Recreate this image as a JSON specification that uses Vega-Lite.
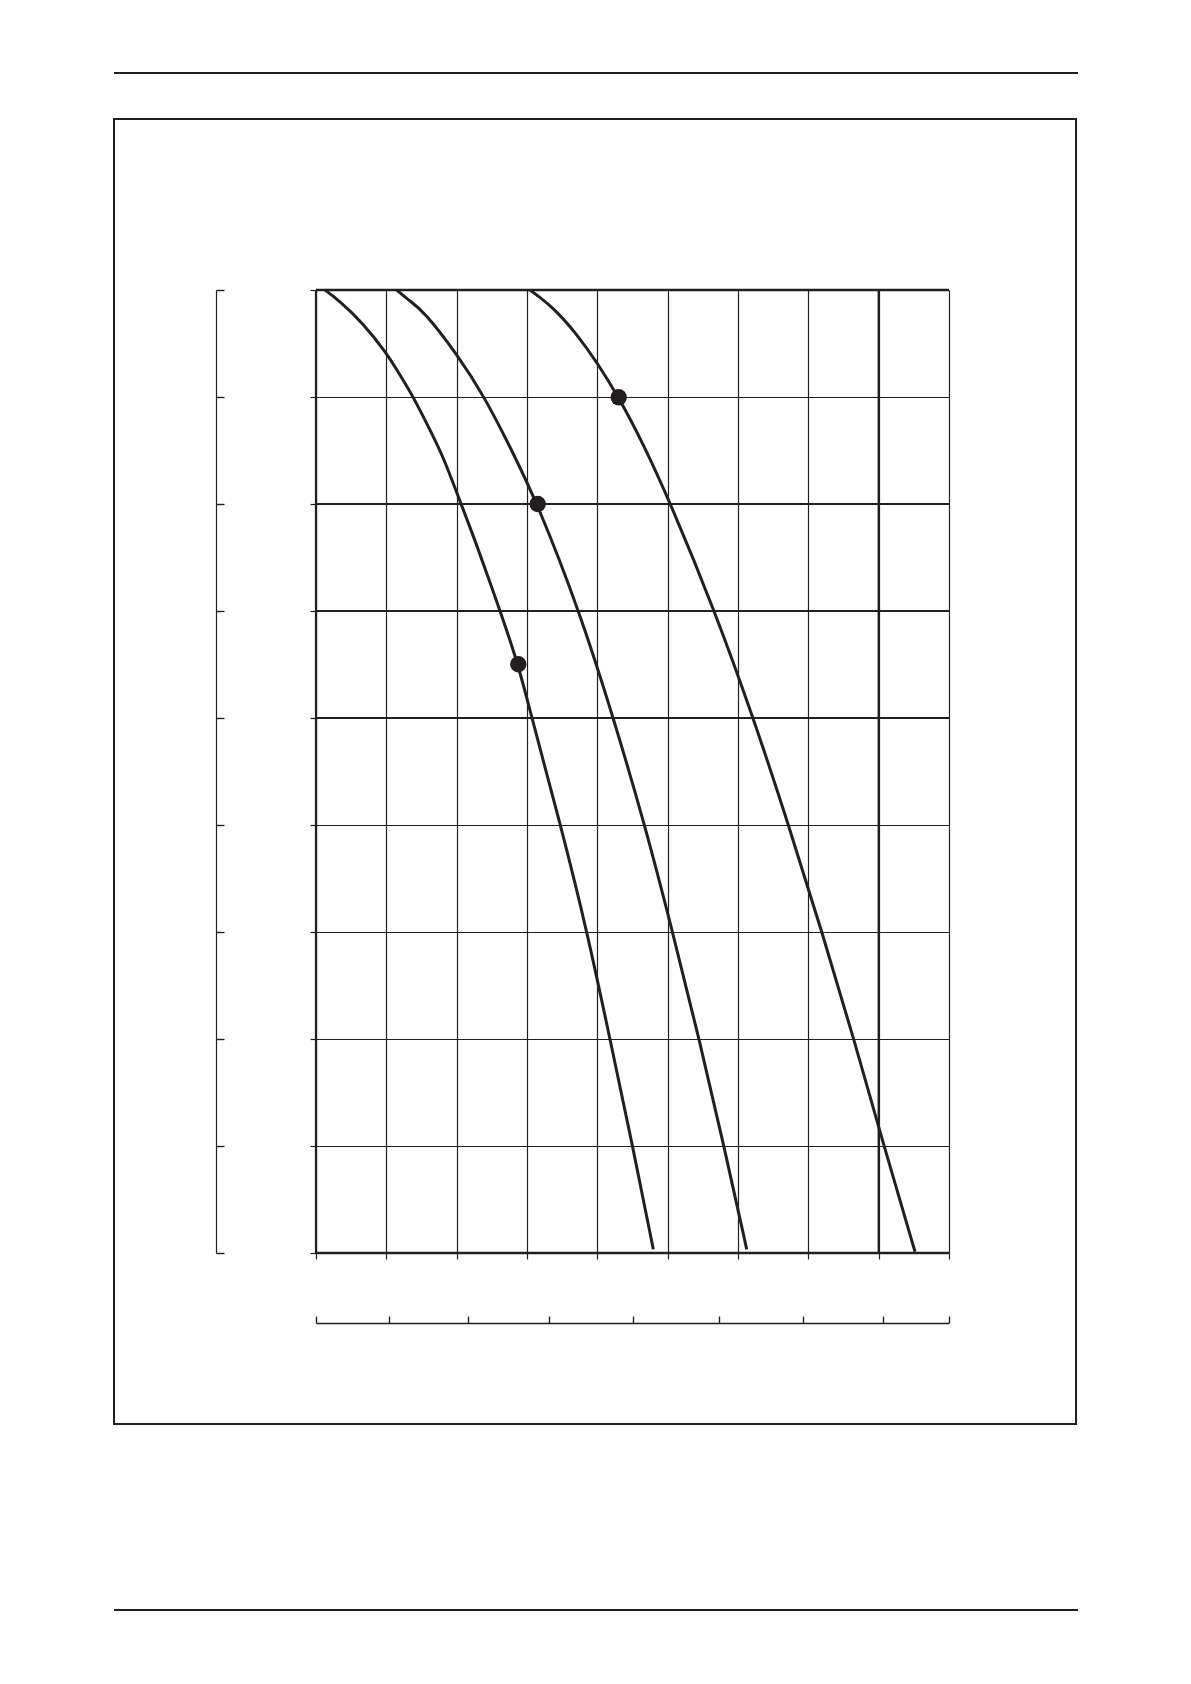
{
  "$schema": "https://vega.github.io/schema/vega-lite/v6.json",
  "width": 633,
  "height": 963,
  "autosize": {"type": "none"},
  "padding": {"left": 316, "top": 290, "right": 242, "bottom": 431},
  "background": "white",
  "usermeta": {"embedOptions": {"actions": false}},
  "config": {
    "view": {"stroke": null},
    "axis": {
      "labels": false,
      "title": null,
      "domainColor": "#231f20",
      "tickColor": "#231f20",
      "gridColor": "#231f20",
      "gridOpacity": 1
    }
  },
  "datasets": {
    "curves": [
      {"curve": "A", "x": 0.128, "y": 9.0},
      {"curve": "A", "x": 0.317, "y": 8.907},
      {"curve": "A", "x": 0.673, "y": 8.689},
      {"curve": "A", "x": 1.005, "y": 8.408},
      {"curve": "A", "x": 1.194, "y": 8.206},
      {"curve": "A", "x": 1.383, "y": 8.003},
      {"curve": "A", "x": 1.621, "y": 7.692},
      {"curve": "A", "x": 1.81, "y": 7.442},
      {"curve": "A", "x": 2.057, "y": 7.007},
      {"curve": "A", "x": 2.261, "y": 6.664},
      {"curve": "A", "x": 2.616, "y": 6.003},
      {"curve": "A", "x": 2.876, "y": 5.502},
      {"curve": "A", "x": 3.067, "y": 5.003},
      {"curve": "A", "x": 3.479, "y": 3.997},
      {"curve": "A", "x": 3.858, "y": 2.997},
      {"curve": "A", "x": 4.18, "y": 1.997},
      {"curve": "A", "x": 4.503, "y": 0.997},
      {"curve": "A", "x": 4.796, "y": 0.034},
      {"curve": "B", "x": 1.147, "y": 9.0},
      {"curve": "B", "x": 1.313, "y": 8.907},
      {"curve": "B", "x": 1.526, "y": 8.807},
      {"curve": "B", "x": 2.0, "y": 8.405},
      {"curve": "B", "x": 2.395, "y": 8.003},
      {"curve": "B", "x": 2.77, "y": 7.52},
      {"curve": "B", "x": 3.152, "y": 7.0},
      {"curve": "B", "x": 3.744, "y": 6.003},
      {"curve": "B", "x": 4.228, "y": 5.003},
      {"curve": "B", "x": 4.678, "y": 3.997},
      {"curve": "B", "x": 5.071, "y": 2.997},
      {"curve": "B", "x": 5.45, "y": 1.997},
      {"curve": "B", "x": 5.801, "y": 0.997},
      {"curve": "B", "x": 6.124, "y": 0.034},
      {"curve": "C", "x": 3.043, "y": 9.0},
      {"curve": "C", "x": 3.374, "y": 8.838},
      {"curve": "C", "x": 3.707, "y": 8.589},
      {"curve": "C", "x": 4.0, "y": 8.32},
      {"curve": "C", "x": 4.304, "y": 7.997},
      {"curve": "C", "x": 4.654, "y": 7.561},
      {"curve": "C", "x": 5.043, "y": 7.003},
      {"curve": "C", "x": 5.669, "y": 6.003},
      {"curve": "C", "x": 6.218, "y": 5.003},
      {"curve": "C", "x": 6.721, "y": 3.997},
      {"curve": "C", "x": 7.195, "y": 2.997},
      {"curve": "C", "x": 7.65, "y": 1.997},
      {"curve": "C", "x": 8.076, "y": 0.997},
      {"curve": "C", "x": 8.517, "y": 0.012}
    ],
    "dots": [
      {"curve": "A", "x": 2.876, "y": 5.502},
      {"curve": "B", "x": 3.152, "y": 7.0},
      {"curve": "C", "x": 4.304, "y": 7.997}
    ],
    "heavy_cols": [{"x": 0}, {"x": 8}],
    "heavy_rows": [{"y": 9, "w": "border"}, {"y": 0, "w": "border"}, {"y": 7, "w": "mid"}, {"y": 6, "w": "mid"}, {"y": 5, "w": "mid"}],
    "frame": [{"x": -2.872, "x2": 10.806, "y": 10.598, "y2": -1.598}],
    "page_lines": [
      {"x": -2.872, "x2": 10.835, "y": 11.028},
      {"x": -2.872, "x2": 10.835, "y": -3.336}
    ]
  },
  "layer": [
    {
      "data": {"name": "heavy_cols"},
      "mark": {"type": "rule", "color": "#231f20", "strokeWidth": 2.2},
      "encoding": {
        "x": {"field": "x", "type": "quantitative", "scale": {"domain": [0, 9], "nice": false, "zero": false}, "axis": null}
      }
    },
    {
      "data": {"name": "heavy_rows"},
      "mark": {"type": "rule", "color": "#231f20"},
      "encoding": {
        "y": {"field": "y", "type": "quantitative", "scale": {"domain": [0, 9], "nice": false, "zero": false}, "axis": null},
        "strokeWidth": {
          "field": "w",
          "type": "nominal",
          "scale": {"domain": ["border", "mid"], "range": [2.6, 1.8]},
          "legend": null
        }
      }
    },
    {
      "data": {"name": "curves"},
      "mark": {"type": "line", "color": "#231f20", "strokeWidth": 3, "interpolate": "basis"},
      "encoding": {
        "x": {
          "field": "x",
          "type": "quantitative",
          "axis": {
            "orient": "bottom",
            "values": [0, 1, 2, 3, 4, 5, 6, 7, 8, 9],
            "grid": true,
            "gridWidth": 1.2,
            "domain": false,
            "tickSize": 6,
            "tickWidth": 1.2
          }
        },
        "y": {
          "field": "y",
          "type": "quantitative",
          "axis": {
            "orient": "left",
            "values": [0, 1, 2, 3, 4, 5, 6, 7, 8, 9],
            "grid": true,
            "gridWidth": 1.2,
            "domain": false,
            "tickSize": 6,
            "tickWidth": 1.2
          }
        },
        "detail": {"field": "curve", "type": "nominal"}
      }
    },
    {
      "data": {"name": "dots"},
      "mark": {"type": "circle", "color": "#231f20", "opacity": 1, "size": 270},
      "encoding": {
        "x": {
          "field": "x",
          "type": "quantitative",
          "axis": {
            "orient": "bottom",
            "offset": 70,
            "values": [0, 1.038, 2.161, 3.313, 4.507, 5.73, 6.924, 8.062, 9],
            "grid": false,
            "domain": true,
            "domainWidth": 1.4,
            "tickSize": -7,
            "tickWidth": 1.4
          }
        },
        "y": {
          "field": "y",
          "type": "quantitative",
          "axis": {
            "orient": "left",
            "offset": 100,
            "values": [0, 1, 2, 3, 4, 5, 6, 7, 8, 9],
            "grid": false,
            "domain": true,
            "domainWidth": 1.2,
            "tickSize": -8,
            "tickWidth": 1.4
          }
        }
      }
    },
    {
      "data": {"name": "frame"},
      "mark": {"type": "rect", "fill": null, "fillOpacity": 0, "stroke": "#231f20", "strokeWidth": 2},
      "encoding": {
        "x": {"field": "x", "type": "quantitative", "axis": null},
        "x2": {"field": "x2"},
        "y": {"field": "y", "type": "quantitative", "axis": null},
        "y2": {"field": "y2"}
      }
    },
    {
      "data": {"name": "page_lines"},
      "mark": {"type": "rule", "color": "#231f20", "strokeWidth": 2},
      "encoding": {
        "x": {"field": "x", "type": "quantitative", "axis": null},
        "x2": {"field": "x2"},
        "y": {"field": "y", "type": "quantitative", "axis": null}
      }
    }
  ],
  "resolve": {"axis": {"x": "independent", "y": "independent"}}
}
